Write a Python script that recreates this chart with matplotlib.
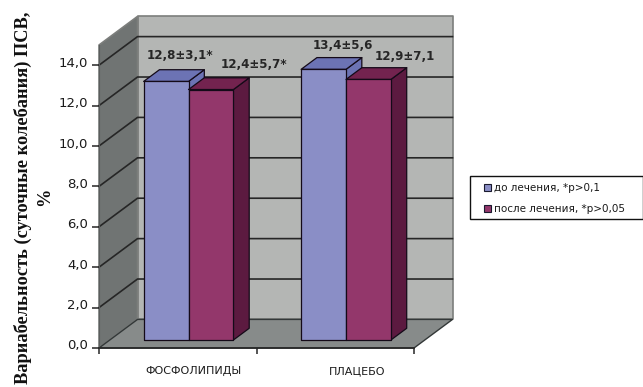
import matplotlib
matplotlib.use("Agg")
import matplotlib.pyplot as plt
from matplotlib.patches import Patch, Polygon, Rectangle
from matplotlib.transforms import ScaledTranslation

# data
groups = ["ФОСФОЛИПИДЫ", "ПЛАЦЕБО"]
before = [12.8, 13.4]
after = [12.4, 12.9]
before_labels = ["12,8±3,1*", "13,4±5,6"]
after_labels = ["12,4±5,7*", "12,9±7,1"]
yticks = [0, 2, 4, 6, 8, 10, 12, 14]
ytick_labels = ["0,0", "2,0", "4,0", "6,0", "8,0", "10,0", "12,0", "14,0"]

# depth of the 3d box in data units
DX = 0.2445
DY = 1.415
YMAX = 15
BAR_W = 0.285
D0, D1 = 0.28, 0.69

WALL = "#b4b6b4"
SIDE = "#707473"
FLOOR = "#878b8a"
GRID = "#262626"

# pixel shift of the value labels from the back of each bar top
before_off = [(-2, 14), (3, 12)]
after_off = [(27, 13), (21, 11)]


def pr(x, v, d):
    # project a point of the box onto the axes plane
    return (x + d * DX, v + d * DY)


def face(ax, pts, color, edge=GRID, lw=0.9, z=1):
    ax.add_patch(Polygon([pr(*p) for p in pts], closed=True, facecolor=color,
                         edgecolor=edge, linewidth=lw, zorder=z, clip_on=False,
                         joinstyle="round"))


def bar3d(ax, x0, val, front, top, side):
    x1 = x0 + BAR_W
    face(ax, [(x1, 0, D0), (x1, 0, D1), (x1, val, D1), (x1, val, D0)], side, "#140a18", z=4)
    face(ax, [(x0, val, D0), (x1, val, D0), (x1, val, D1), (x0, val, D1)], top, "#140a18", z=4)
    face(ax, [(x0, 0, D0), (x1, 0, D0), (x1, val, D0), (x0, val, D0)], front, "#140a18", z=4)


def value_label(ax, text, x, val, off):
    ax.annotate(text, pr(x, val, D1), xytext=off, textcoords="offset pixels",
                ha="center", va="center", fontsize=8.6, fontweight="bold",
                color="#262626", annotation_clip=False, zorder=6)


fig = plt.figure(figsize=(6.43, 3.87), dpi=100)
ax = fig.add_axes([99 / 643, (387 - 348) / 387, 315 / 643, 303 / 387])
ax.set_xlim(0, 2)
ax.set_ylim(0, YMAX)
ax.patch.set_alpha(0)

# walls and floor
face(ax, [(0, 0, 1), (2, 0, 1), (2, YMAX, 1), (0, YMAX, 1)], WALL, "#7c7e7c", 1.2)
face(ax, [(0, 0, 0), (0, 0, 1), (0, YMAX, 1), (0, YMAX, 0)], SIDE, "#7c7e7c", 1.2)
face(ax, [(0, 0, 0), (2, 0, 0), (2, 0, 1), (0, 0, 1)], FLOOR, "#333838", 1.0)

# grid lines go along the side wall and the back wall
for v in yticks[1:]:
    a = pr(0, v, 0)
    b = pr(0, v, 1)
    c = pr(2, v, 1)
    ax.plot([a[0], b[0], c[0]], [a[1], b[1], c[1]], color=GRID, lw=1.2, zorder=2, clip_on=False)

# bars
for i in range(len(groups)):
    x0 = i + 0.5 - BAR_W
    bar3d(ax, x0, before[i], "#8a8ec6", "#6c73b4", "#6c73b4")
    bar3d(ax, x0 + BAR_W, after[i], "#93376b", "#73234f", "#5c1a40")

# value labels above the bars
for i in range(len(groups)):
    x0 = i + 0.5 - BAR_W
    value_label(ax, before_labels[i], x0 + BAR_W / 2, before[i], before_off[i])
    value_label(ax, after_labels[i], x0 + BAR_W * 1.5, after[i], after_off[i])

# axes
for s in ["top", "right"]:
    ax.spines[s].set_visible(False)
ax.spines["left"].set_color("#5a5d5d")
ax.spines["bottom"].set_color(GRID)
ax.spines["bottom"].set_linewidth(1.2)
ax.spines["left"].set_zorder(5)
ax.spines["bottom"].set_zorder(5)
ax.set_yticks(yticks)
ax.set_yticklabels(ytick_labels, fontsize=9.5, color="#1a1a1a")
ax.tick_params(axis="y", length=5, width=1.1, color=GRID, pad=3)
up = ScaledTranslation(0, 3.5 / 100, fig.dpi_scale_trans)
for lab in ax.get_yticklabels():
    lab.set_transform(lab.get_transform() + up)
ax.set_xticks([0, 1, 2])
ax.set_xticklabels(["", "", ""])
ax.tick_params(axis="x", length=4, width=1.1, color=GRID)
ax.set_xticks([0.597, 1.638], minor=True)
ax.set_xticklabels(groups, minor=True, fontsize=8, color="#1a1a1a")
ax.tick_params(axis="x", which="minor", length=0, pad=13)

# y title on two lines
fig.text(23 / 643, 1 - 198 / 387, "Вариабельность (суточные колебания) ПСВ,", rotation=90,
         ha="center", va="center", family="Liberation Serif", fontweight="bold",
         fontsize=13.2, color="#111111")
fig.text(45 / 643, 1 - 197 / 387, "%", rotation=90, ha="center", va="center",
         family="Liberation Serif", fontweight="bold", fontsize=13.2, color="#111111")

# legend, the frame is drawn on its own because it is wider than the entries
fig.add_artist(Rectangle((470 / 643, 1 - 219 / 387), 172.5 / 643, 43 / 387,
                         transform=fig.transFigure, facecolor="white",
                         edgecolor="#111111", linewidth=1.0))
handles = [Patch(facecolor="#8a8ec6", edgecolor="#1a1a2e", lw=0.8),
           Patch(facecolor="#93376b", edgecolor="#1a1a2e", lw=0.8)]
leg = fig.legend(handles, ["до лечения, *р>0,1", "после лечения, *р>0,05"],
                 loc="upper left", bbox_to_anchor=(484 / 643, 1 - 183 / 387),
                 borderaxespad=0, borderpad=0, frameon=False,
                 fontsize=7.5, handlelength=0.65, handleheight=0.65, handletextpad=0.35,
                 labelspacing=1.05, labelcolor="#1a1a1a")
leg.set_zorder(5)

fig.savefig("out.png", dpi=100)
